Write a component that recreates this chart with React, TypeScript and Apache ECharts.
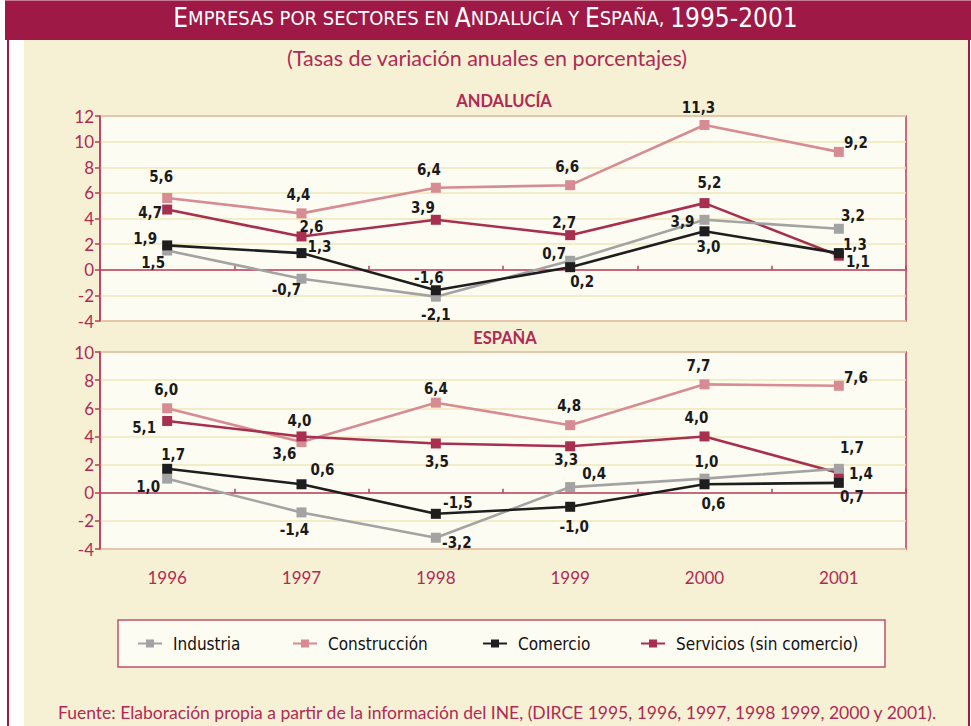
import React, { useEffect, useRef } from "react";
import * as echarts from "echarts";

const years = ["1996", "1997", "1998", "1999", "2000", "2001"];
const seriesNames = ["Industria", "Construcción", "Comercio", "Servicios (sin comercio)"];

// Andalucía
const andIndustria = [1.5, -0.7, -2.1, 0.7, 3.9, 3.2];
const andConstruccion = [5.6, 4.4, 6.4, 6.6, 11.3, 9.2];
const andComercio = [1.9, 1.3, -1.6, 0.2, 3.0, 1.3];
const andServicios = [4.7, 2.6, 3.9, 2.7, 5.2, 1.1];

// España
const espIndustria = [1.0, -1.4, -3.2, 0.4, 1.0, 1.7];
const espConstruccion = [6.0, 3.6, 6.4, 4.8, 7.7, 7.6];
const espComercio = [1.7, 0.6, -1.5, -1.0, 0.6, 0.7];
const espServicios = [5.1, 4.0, 3.5, 3.3, 4.0, 1.4];

const yTicksAnd = { min: -4, max: 12, interval: 2 };
const yTicksEsp = { min: -4, max: 10, interval: 2 };

// label offsets (style only)
const offAnd = {
  ind: [[-14, 12], [-15, 11], [0, 18], [-16, -7], [-22, 2], [14, -13]],
  con: [[-6, -21], [-3, -18], [-7, -18], [-3, -18], [-6, -17], [17, -9]],
  com: [[-22, -6], [18, -6], [-7, -12], [12, 15], [4, 16], [16, -8]],
  ser: [[-17, 3], [10, -9], [-13, -12], [-6, -12], [5, -20], [19, 6]],
};
const offEsp = {
  ind: [[-19, 8], [-7, 18], [21, 5], [24, -13], [2, -17], [13, -21]],
  con: [[-1, -18], [-17, 12], [0, -14], [-1, -19], [-6, -18], [17, -8]],
  com: [[6, -14], [21, -14], [22, -11], [4, 20], [9, 20], [13, 14]],
  ser: [[-23, 7], [-2, -15], [1, 19], [-4, 14], [-8, -18], [22, 1]],
};

const COLORS: Record<string, string> = {
  Industria: "#A3A3A3",
  "Construcción": "#D68C92",
  Comercio: "#1E1E1E",
  "Servicios (sin comercio)": "#A82F50",
};
const MAROON = "#9E1946";
const AXIS = "#B93C62";
const LABEL_MAROON = "#B02A55";
const CREAM = "#F6F1D4";
const PLOT_BG = "#FDFCF3";
const GRIDLINE = "#EEE7B8";
const NARROW = "'Liberation Sans Narrow', 'DejaVu Sans Condensed', 'Noto Sans', sans-serif";
const HUMAN = "Lato, 'Open Sans', sans-serif";

const fmt = (v: number) => v.toFixed(1).replace(".", ",");

function smallCaps(s: string) {
  let out = "";
  let cur = "";
  let curStyle = "";
  const flush = () => {
    if (cur) out += `{${curStyle}|${cur}}`;
    cur = "";
  };
  for (const ch of s) {
    const isLower = ch !== ch.toUpperCase();
    const style = isLower || ch === " " || ch === "," ? "s" : "b";
    if (style !== curStyle) {
      flush();
      curStyle = style;
    }
    cur += isLower ? ch.toUpperCase() : ch;
  }
  flush();
  return out;
}

export default function App() {
  const ref = useRef<HTMLDivElement>(null);
  useEffect(() => {
    document.body.style.margin = "0";
    const chart = echarts.init(ref.current!, undefined, { renderer: "svg" });

    const grids = [
      { left: 100, top: 116, width: 806, height: 205 },
      { left: 100, top: 352, width: 806, height: 197 },
    ];

    const mkSeries = (
      name: string,
      data: number[],
      offs: number[][],
      gi: number,
      z: number
    ) => ({
      type: "line",
      name,
      xAxisIndex: gi,
      yAxisIndex: gi,
      z,
      symbol: "rect",
      symbolSize: 10,
      lineStyle: { color: COLORS[name], width: 2.6 },
      itemStyle: { color: COLORS[name] },
      label: {
        show: true,
        position: "inside",
        formatter: (p: any) => fmt(p.value),
        color: "#1a1a1a",
        fontFamily: NARROW,
        fontSize: 15,
        fontWeight: 600,
        align: "center",
        verticalAlign: "middle",
      },
      data: data.map((v, i) => ({ value: v, label: { offset: offs[i] } })),
    });

    const series: any[] = [];
    const sets = [
      { off: offAnd, d: [andIndustria, andConstruccion, andComercio, andServicios] },
      { off: offEsp, d: [espIndustria, espConstruccion, espComercio, espServicios] },
    ];
    sets.forEach((s, gi) => {
      series.push(mkSeries("Construcción", s.d[1], s.off.con, gi, 2));
      series.push(mkSeries("Servicios (sin comercio)", s.d[3], s.off.ser, gi, 3));
      series.push(mkSeries("Industria", s.d[0], s.off.ind, gi, 4));
      series.push(mkSeries("Comercio", s.d[2], s.off.com, gi, 5));
    });

    const xZero = (gi: number) => ({
      type: "category",
      gridIndex: gi,
      data: years,
      boundaryGap: true,
      axisLine: { show: true, onZero: true, lineStyle: { color: AXIS, width: 1.5 } },
      axisTick: { show: true, inside: true, length: 4, lineStyle: { color: AXIS, width: 1.5 } },
      axisLabel: { show: false },
      splitLine: { show: false },
      z: 3,
    });

    const yAx = (gi: number, t: { min: number; max: number; interval: number }) => ({
      type: "value",
      gridIndex: gi,
      min: t.min,
      max: t.max,
      interval: t.interval,
      axisLine: { show: true, onZero: false, lineStyle: { color: AXIS, width: 1.5 } },
      axisTick: { show: true, length: 5, lineStyle: { color: AXIS, width: 1.5 } },
      axisLabel: { color: LABEL_MAROON, fontFamily: HUMAN, fontSize: 17, margin: 6 },
      splitLine: { show: true, lineStyle: { color: GRIDLINE, width: 1.5 } },
    });

    const legendLefts = [137, 292, 482, 640];

    const option: any = {
      animation: false,
      backgroundColor: "#ffffff",
      grid: grids.map((g) => ({
        ...g,
        show: true,
        backgroundColor: PLOT_BG,
        borderColor: AXIS,
        borderWidth: 1.5,
        containLabel: false,
      })),
      xAxis: [
        xZero(0),
        xZero(1),
        {
          type: "category",
          gridIndex: 1,
          data: years,
          position: "bottom",
          axisLine: { show: false, onZero: false },
          axisTick: { show: false },
          axisLabel: { color: LABEL_MAROON, fontFamily: HUMAN, fontSize: 17, margin: 20 },
          splitLine: { show: false },
        },
      ],
      yAxis: [yAx(0, yTicksAnd), yAx(1, yTicksEsp)],
      legend: seriesNames.map((n, i) => ({
        data: [n],
        left: legendLefts[i],
        top: 635,
        itemWidth: 24,
        itemHeight: 10,
        itemGap: 0,
        padding: 0,
        textStyle: { color: "#111", fontFamily: NARROW, fontSize: 17, fontWeight: "normal", padding: [0, 0, 0, 6] },
        selectedMode: false,
      })),
      graphic: [
        { type: "rect", z: -100, silent: true, shape: { x: 24, y: 40, width: 944, height: 686 }, style: { fill: CREAM } },
        { type: "rect", z: -100, silent: true, shape: { x: 7, y: 40, width: 2, height: 686 }, style: { fill: MAROON } },
        { type: "rect", z: -100, silent: true, shape: { x: 968, y: 40, width: 2, height: 686 }, style: { fill: MAROON } },
        { type: "rect", z: -100, silent: true, shape: { x: 5, y: 1, width: 966, height: 39 }, style: { fill: MAROON } },
        { type: "rect", z: -100, silent: true, shape: { x: 5, y: 0, width: 966, height: 1 }, style: { fill: "#C77A93" } },
        {
          type: "rect", z: -100, silent: true,
          shape: { x: 118, y: 620, width: 767, height: 47 },
          style: { fill: PLOT_BG, stroke: "#C0506E", lineWidth: 1.5 },
        },
        {
          type: "text", z: 10, left: "center", top: 5,
          style: {
            text: smallCaps("Empresas por sectores en Andalucía y España, 1995-2001"),
            fill: "#ffffff",
            rich: {
              b: { fontFamily: NARROW, fontSize: 26, fill: "#ffffff", fontWeight: "normal" },
              s: { fontFamily: NARROW, fontSize: 20, fill: "#ffffff", fontWeight: "normal" },
            },
          },
        },
        {
          type: "text", z: 10, x: 487, y: 58,
          style: {
            text: "(Tasas de variación anuales en porcentajes)",
            fill: LABEL_MAROON, fontFamily: HUMAN, fontSize: 21.5,
            align: "center", verticalAlign: "middle",
          },
        },
        {
          type: "text", z: 10, x: 504, y: 101,
          style: { text: "ANDALUCÍA", fill: LABEL_MAROON, fontFamily: HUMAN, fontSize: 16.5, fontWeight: "bold", align: "center", verticalAlign: "middle" },
        },
        {
          type: "text", z: 10, x: 505, y: 338,
          style: { text: "ESPAÑA", fill: LABEL_MAROON, fontFamily: HUMAN, fontSize: 16.5, fontWeight: "bold", align: "center", verticalAlign: "middle" },
        },
        {
          type: "text", z: 10, x: 497, y: 712,
          style: {
            text: "Fuente: Elaboración propia a partir de la información del INE, (DIRCE 1995, 1996, 1997, 1998 1999, 2000 y 2001).",
            fill: LABEL_MAROON, fontFamily: HUMAN, fontSize: 17.5,
            align: "center", verticalAlign: "middle",
          },
        },
      ],
      series,
    };

    chart.setOption(option);
    return () => chart.dispose();
  }, []);

  return (
    <div
      ref={ref}
      style={{ position: "absolute", left: 0, top: 0, width: 971, height: 726 }}
    />
  );
}
